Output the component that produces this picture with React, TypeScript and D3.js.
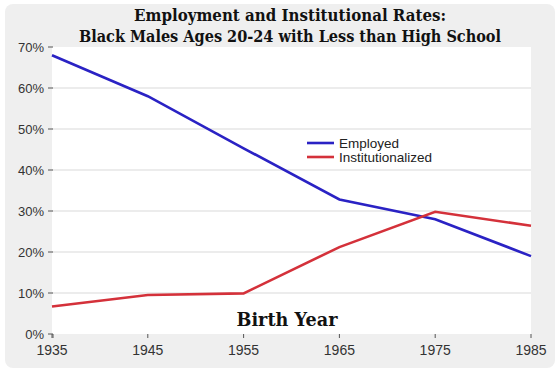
import React from "react"
import * as d3 from "d3"

const years = [1935, 1945, 1955, 1965, 1975, 1985]
const employed = [68, 58, 45.3, 32.8, 28, 19]
const institutionalized = [6.7, 9.5, 9.9, 21.2, 29.8, 26.4]
const yTicks = [0, 10, 20, 30, 40, 50, 60, 70]
const titleLines = [
    "Employment and Institutional Rates:",
    "Black Males Ages 20-24 with Less than High School",
]
const series = [
    { name: "Employed", values: employed, color: "#2a22c4" },
    { name: "Institutionalized", values: institutionalized, color: "#d4313a" },
]

const width = 559
const height = 373

export default function App() {
    const left = 52
    const right = 531
    const top = 47
    const bottom = 334

    const x = d3.scaleLinear().domain([1935, 1985]).range([left, right])
    const y = d3.scaleLinear().domain([0, 70]).range([bottom, top])

    const line = d3
        .line<number>()
        .x((_, i) => x(years[i]))
        .y((d) => y(d))

    const sans = "'Liberation Sans', Arial, sans-serif"
    const serif = "'DejaVu Serif', Georgia, serif"

    return (
        <svg
            width={width}
            height={height}
            style={{ position: "absolute", left: 0, top: 0 }}
        >
            <rect x={0} y={0} width={width} height={height} fill="#fff" />
            {/* panel background */}
            <rect x={5} y={4} width={550} height={364} rx={8} fill="#efefef" />
            {/* plot area */}
            <rect x={left} y={top} width={right - left} height={bottom - top} fill="#fff" />

            {/* grid */}
            {yTicks.slice(1, -1).map((t) => (
                <line
                    key={t}
                    x1={left}
                    x2={right}
                    y1={y(t)}
                    y2={y(t)}
                    stroke="#e6e6e6"
                    strokeWidth={1.5}
                />
            ))}

            {/* y axis labels + ticks */}
            {yTicks.map((t) => (
                <g key={t}>
                    <line x1={48} x2={53} y1={y(t)} y2={y(t)} stroke="#555" strokeWidth={1} />
                    <text
                        x={44}
                        y={y(t)}
                        dy="0.35em"
                        textAnchor="end"
                        fontFamily={sans}
                        fontSize={13}
                        fill="#333"
                    >
                        {t}%
                    </text>
                </g>
            ))}
            <line x1={53} x2={53} y1={bottom} y2={bottom + 4} stroke="#555" strokeWidth={1} />

            {/* x axis ticks + labels */}
            {years.map((yr) => (
                <g key={yr}>
                    <line x1={x(yr)} x2={x(yr)} y1={bottom} y2={bottom + 4} stroke="#555" strokeWidth={1} />
                    <text
                        x={x(yr)}
                        y={355}
                        textAnchor="middle"
                        fontFamily={sans}
                        fontSize={14}
                        fill="#333"
                    >
                        {yr}
                    </text>
                </g>
            ))}

            {/* lines */}
            {series.map((s) => (
                <path
                    key={s.name}
                    d={line(s.values) || ""}
                    fill="none"
                    stroke={s.color}
                    strokeWidth={2.6}
                />
            ))}

            {/* legend */}
            {series.map((s, i) => (
                <g key={s.name} transform={`translate(307,${143 + i * 14})`}>
                    <line x1={0} x2={27} y1={0} y2={0} stroke={s.color} strokeWidth={2.6} />
                    <text x={32} y={0} dy="0.35em" fontFamily={sans} fontSize={13.5} fill="#222">
                        {s.name}
                    </text>
                </g>
            ))}

            {/* title */}
            {titleLines.map((t, i) => (
                <text
                    key={i}
                    x={290}
                    y={21 + i * 21}
                    textAnchor="middle"
                    fontFamily={serif}
                    fontWeight="bold"
                    fontSize={16}
                    fill="#111"
                    textLength={i === 0 ? 312 : 422}
                    lengthAdjust="spacingAndGlyphs"
                >
                    {t}
                </text>
            ))}

            <text
                x={287}
                y={326}
                textAnchor="middle"
                fontFamily={serif}
                fontWeight="bold"
                fontSize={19}
                fill="#111"
                textLength={101}
                lengthAdjust="spacingAndGlyphs"
            >
                Birth Year
            </text>
        </svg>
    )
}
